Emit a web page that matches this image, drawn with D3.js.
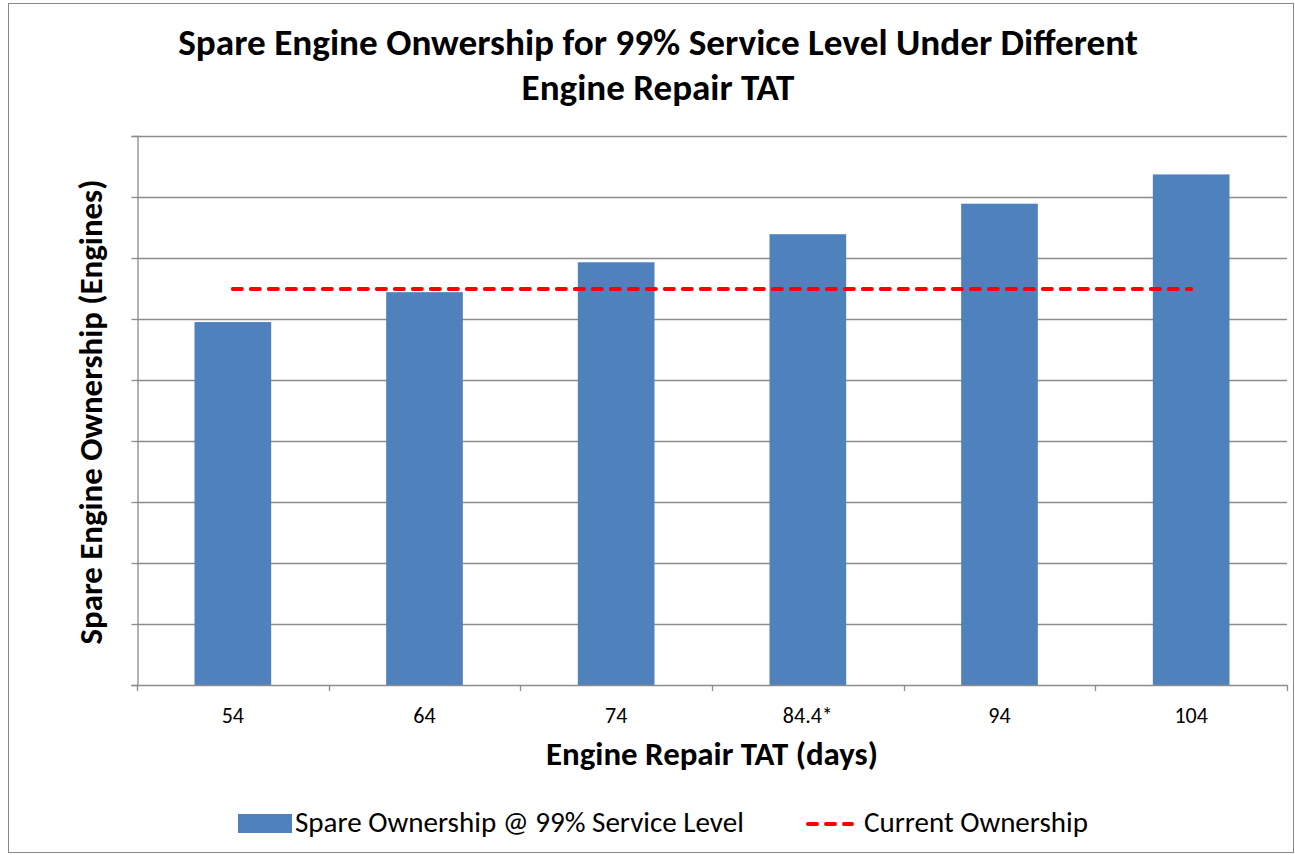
<!DOCTYPE html>
<html>
<head>
<meta charset="utf-8">
<script src="https://cdn.jsdelivr.net/npm/d3@7"></script>
<style>
  body { margin: 0; background: #fff; }
  svg { display: block; }
</style>
</head>
<body>
<svg id="chart"></svg>
<script>
// chart data (axis has no printed values, so units are gridline steps)
const tatLabels = ["54", "64", "74", "84.4*", "94", "104"];
const spareOwnership = [5.95, 6.44, 6.93, 7.39, 7.89, 8.37];
const currentOwnership = 6.49;
const yTicks = [0, 1, 2, 3, 4, 5, 6, 7, 8, 9];

const width = 1295, height = 855;
const left = 137, right = 1287;
const font = "Carlito, 'Open Sans', 'Noto Sans', sans-serif";
const gridColor = "#8c8c8c";

const svg = d3.select("#chart")
  .attr("width", width)
  .attr("height", height)
  .style("font-family", font);

// outer chart border
svg.append("rect")
  .attr("x", 8.5).attr("y", 3.5)
  .attr("width", width - 10).attr("height", height - 6)
  .attr("fill", "#fff")
  .attr("stroke", "#888").attr("stroke-width", 1);

const x = d3.scaleBand()
  .domain(tatLabels)
  .range([left, right])
  .paddingInner(0.6)
  .paddingOuter(0.3);

const y = d3.scaleLinear()
  .domain([0, 9])
  .range([685, 136]);

// gridlines
svg.append("g")
  .selectAll("line")
  .data(yTicks.slice(1))
  .join("line")
  .attr("x1", left).attr("x2", right)
  .attr("y1", d => Math.round(y(d)) + 0.5)
  .attr("y2", d => Math.round(y(d)) + 0.5)
  .attr("stroke", gridColor).attr("stroke-width", 1.3);

// bars
svg.append("g")
  .selectAll("rect")
  .data(spareOwnership)
  .join("rect")
  .attr("x", (d, i) => x(tatLabels[i]))
  .attr("width", x.bandwidth())
  .attr("y", d => y(d))
  .attr("height", d => y(0) - y(d))
  .attr("fill", "#4f81bd");

// current ownership line, first to last bar centre
const half = x.bandwidth() / 2;
svg.append("line")
  .attr("x1", x(tatLabels[0]) + half)
  .attr("x2", x(tatLabels[tatLabels.length - 1]) + half)
  .attr("y1", y(currentOwnership)).attr("y2", y(currentOwnership))
  .attr("stroke", "#ff0000")
  .attr("stroke-width", 4)
  .attr("stroke-linecap", "round")
  .attr("stroke-dasharray", "9,9");

// y axis (no labels)
const yAxis = svg.append("g")
  .attr("transform", `translate(${left + 0.5},0)`)
  .call(d3.axisLeft(y).tickValues(yTicks).tickSize(6).tickFormat(""));
yAxis.selectAll("line, path").attr("stroke", gridColor).attr("stroke-width", 1.3);

// x axis with ticks on category boundaries
const xAxis = svg.append("g");
xAxis.append("line")
  .attr("x1", left).attr("x2", right)
  .attr("y1", 685.5).attr("y2", 685.5)
  .attr("stroke", gridColor).attr("stroke-width", 1.3);
xAxis.selectAll("line.tick")
  .data(d3.range(tatLabels.length + 1))
  .join("line")
  .attr("class", "tick")
  .attr("x1", i => Math.round(left + i * x.step()) + 0.5)
  .attr("x2", i => Math.round(left + i * x.step()) + 0.5)
  .attr("y1", 685).attr("y2", 691)
  .attr("stroke", gridColor).attr("stroke-width", 1.3);
xAxis.selectAll("text")
  .data(tatLabels)
  .join("text")
  .attr("x", d => x(d) + half)
  .attr("y", 723)
  .attr("text-anchor", "middle")
  .attr("font-size", 22)
  .attr("fill", "#000")
  .text(d => d);

// titles
const title1 = svg.append("text")
  .attr("x", 658).attr("y", 55).attr("text-anchor", "middle")
  .attr("font-weight", "bold")
  .text("Spare Engine Onwership for 99% Service Level Under Different");
const title2 = svg.append("text")
  .attr("x", 658).attr("y", 100).attr("text-anchor", "middle")
  .attr("font-weight", "bold")
  .text("Engine Repair TAT");

const xTitle = svg.append("text")
  .attr("x", 712).attr("y", 765)
  .attr("text-anchor", "middle")
  .attr("font-weight", "bold")
  .text("Engine Repair TAT (days)");

const yTitle = svg.append("text")
  .attr("transform", "translate(102,412) rotate(-90)")
  .attr("text-anchor", "middle")
  .attr("font-weight", "bold")
  .text("Spare Engine Ownership (Engines)");

// legend
const legend = svg.append("g");
legend.append("rect")
  .attr("x", 238).attr("y", 814)
  .attr("width", 54).attr("height", 19)
  .attr("fill", "#4f81bd");
const leg1 = legend.append("text")
  .attr("x", 295).attr("y", 832)
  .text("Spare Ownership @ 99% Service Level");
legend.append("line")
  .attr("x1", 808).attr("x2", 852)
  .attr("y1", 824).attr("y2", 824)
  .attr("stroke", "#ff0000").attr("stroke-width", 4)
  .attr("stroke-linecap", "round")
  .attr("stroke-dasharray", "9,9");
const leg2 = legend.append("text")
  .attr("x", 864).attr("y", 832)
  .text("Current Ownership");

// pick font sizes so text widths match the reference
function fitSize(t, w) {
  t.attr("font-size", 20);
  const len = t.node().getComputedTextLength();
  if (len > 0) t.attr("font-size", 20 * w / len);
}
fitSize(title1, 960);
fitSize(title2, 273);
fitSize(xTitle, 332);
fitSize(yTitle, 465);
fitSize(leg1, 449);
fitSize(leg2, 224);
</script>
</body>
</html>
